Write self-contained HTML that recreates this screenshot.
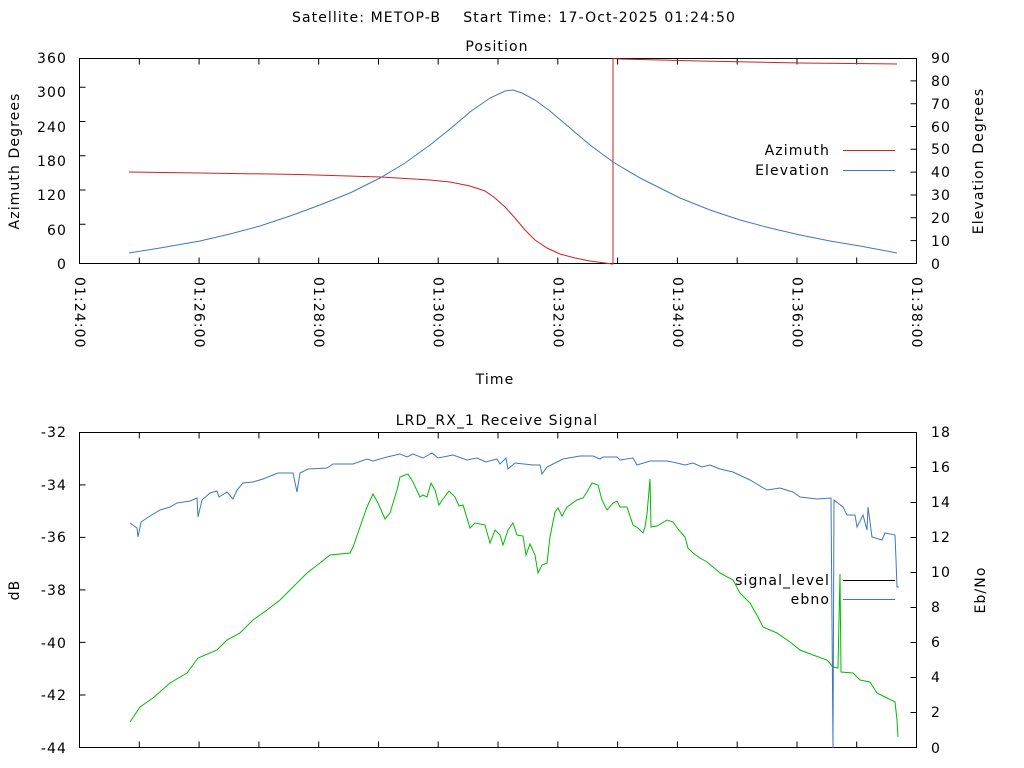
<!DOCTYPE html>
<html><head><meta charset="utf-8"><style>
html,body{margin:0;padding:0;background:#fff;}
svg{display:block;font-family:"DejaVu Sans","Liberation Sans",sans-serif;font-size:14px;fill:#000;letter-spacing:1.1px;}
</style></head><body>
<svg width="1024" height="768" viewBox="0 0 1024 768" xmlns="http://www.w3.org/2000/svg">
<rect width="1024" height="768" fill="#fff"/>
<text x="514" y="22" text-anchor="middle" xml:space="preserve">Satellite: METOP-B    Start Time: 17-Oct-2025 01:24:50</text>
<text x="497" y="51" text-anchor="middle">Position</text>
<text x="495" y="384" text-anchor="middle">Time</text>
<text x="497" y="425" text-anchor="middle">LRD_RX_1 Receive Signal</text>

<rect x="79.5" y="58.5" width="837" height="205" fill="none" stroke="#000" stroke-width="1"/>
<g stroke="#000" stroke-width="1">
<path d="M79.5 224.2h6M79.5 190h6M79.5 155.8h6M79.5 121.5h6M79.5 87.2h6"/>
<path d="M916.5 240.6h-6M916.5 217.8h-6M916.5 195h-6M916.5 172.1h-6M916.5 149.3h-6M916.5 126.5h-6M916.5 103.7h-6M916.5 80.9h-6"/>
<path d="M139.3 263.5v-6M199.1 263.5v-6M258.9 263.5v-6M318.7 263.5v-6M378.5 263.5v-6M438.2 263.5v-6M498 263.5v-6M557.8 263.5v-6M617.6 263.5v-6M677.4 263.5v-6M737.2 263.5v-6M797 263.5v-6M856.7 263.5v-6"/>
<path d="M139.3 58.5v6M199.1 58.5v6M258.9 58.5v6M318.7 58.5v6M378.5 58.5v6M438.2 58.5v6M498 58.5v6M557.8 58.5v6M617.6 58.5v6M677.4 58.5v6M737.2 58.5v6M797 58.5v6M856.7 58.5v6"/>
</g>
<g text-anchor="end">
<text x="67" y="63">360</text><text x="67" y="97">300</text><text x="67" y="132">240</text><text x="67" y="166">180</text><text x="67" y="200">120</text><text x="67" y="235">60</text><text x="67" y="269">0</text>
</g>
<g>
<text x="931" y="63">90</text><text x="931" y="86">80</text><text x="931" y="109">70</text><text x="931" y="132">60</text><text x="931" y="154">50</text><text x="931" y="177">40</text><text x="931" y="200">30</text><text x="931" y="223">20</text><text x="931" y="246">10</text><text x="931" y="269">0</text>
</g>
<g>
<text transform="translate(75,277) rotate(90)">01:24:00</text>
<text transform="translate(194.6,277) rotate(90)">01:26:00</text>
<text transform="translate(314.2,277) rotate(90)">01:28:00</text>
<text transform="translate(433.7,277) rotate(90)">01:30:00</text>
<text transform="translate(553.3,277) rotate(90)">01:32:00</text>
<text transform="translate(672.9,277) rotate(90)">01:34:00</text>
<text transform="translate(792.5,277) rotate(90)">01:36:00</text>
<text transform="translate(912,277) rotate(90)">01:38:00</text>
</g>
<text transform="translate(19,161) rotate(-90)" text-anchor="middle">Azimuth Degrees</text>
<text transform="translate(983,161) rotate(-90)" text-anchor="middle">Elevation Degrees</text>

<polyline fill="none" stroke="#cc2222" stroke-width="1" points="129,172 200,173 300,174.5 380,177 430,180 450,182 470,186 485,191 495,198 505,207 515,218 525,230 535,240 547,248 560,254 575,258 590,261 605,263 612,264 613,264 613,58.5 620,59 700,61 800,63 897,64"/>
<polyline fill="none" stroke="#3f78c0" stroke-width="1" points="129,253 160,248 200,241 230,234 260,226 290,216 320,205 350,193 380,178 405,163 430,145 450,129 470,112 490,98 505,91 513,90 522,93 535,100 550,111 570,128 590,145 613,162 640,178 680,198 710,210 740,220 770,228 800,235 830,241 860,246 897,253"/>
<text x="830" y="155" text-anchor="end">Azimuth</text>
<line x1="843" y1="150.5" x2="895" y2="150.5" stroke="#cc2222"/>
<text x="830" y="175" text-anchor="end">Elevation</text>
<line x1="843" y1="170.5" x2="895" y2="170.5" stroke="#3f78c0"/>

<rect x="79.5" y="432.5" width="837" height="315" fill="none" stroke="#000" stroke-width="1"/>
<g stroke="#000" stroke-width="1">
<path d="M79.5 695h6M79.5 642.4h6M79.5 589.9h6M79.5 537.4h6M79.5 484.9h6"/>
<path d="M916.5 712.5h-6M916.5 677.5h-6M916.5 642.5h-6M916.5 607.5h-6M916.5 572.5h-6M916.5 537.5h-6M916.5 502.5h-6M916.5 467.5h-6"/>
<path d="M139.3 747.5v-6M199.1 747.5v-6M258.9 747.5v-6M318.7 747.5v-6M378.5 747.5v-6M438.2 747.5v-6M498 747.5v-6M557.8 747.5v-6M617.6 747.5v-6M677.4 747.5v-6M737.2 747.5v-6M797 747.5v-6M856.7 747.5v-6"/>
<path d="M139.3 432.5v6M199.1 432.5v6M258.9 432.5v6M318.7 432.5v6M378.5 432.5v6M438.2 432.5v6M498 432.5v6M557.8 432.5v6M617.6 432.5v6M677.4 432.5v6M737.2 432.5v6M797 432.5v6M856.7 432.5v6"/>
</g>
<g text-anchor="end">
<text x="67" y="437">-32</text><text x="67" y="490">-34</text><text x="67" y="542">-36</text><text x="67" y="595">-38</text><text x="67" y="648">-40</text><text x="67" y="700">-42</text><text x="67" y="753">-44</text>
</g>
<g>
<text x="931" y="437">18</text><text x="931" y="472">16</text><text x="931" y="507">14</text><text x="931" y="542">12</text><text x="931" y="577">10</text><text x="931" y="612">8</text><text x="931" y="647">6</text><text x="931" y="682">4</text><text x="931" y="717">2</text><text x="931" y="753">0</text>
</g>
<text transform="translate(19,590) rotate(-90)" text-anchor="middle">dB</text>
<text transform="translate(985,590) rotate(-90)" text-anchor="middle">Eb/No</text>

<polyline fill="none" stroke="#00bb00" stroke-width="1" points="130,722 140,707 153,698 170,683 187,673 198,658 217,650 227,640 240,633 253,620 267,610 280,600 293,587 307,573 320,563 330,555 350,553 353,547 360,527 367,507 373,494 378,503 385,519 390,513 397,490 400,477 408,474 413,482 420,497 423,495 427,497 431,483 435,490 439,505 443,499 449,491 455,497 459,506 463,505 470,528 475,523 485,525 490,543 495,530 500,535 503,545 508,530 513,523 517,535 523,536 526,555 530,544 535,555 538,573 542,565 547,563 550,537 555,512 558,508 562,516 567,507 577,500 583,498 587,492 592,483 598,485 602,500 607,510 613,503 617,501 620,507 627,507 633,525 638,528 643,533 645,527 647,514 650,479 651,527 657,526 667,520 673,522 678,529 685,537 688,548 693,553 700,558 707,562 720,573 733,580 740,593 750,603 758,617 763,627 777,633 790,642 800,650 813,655 827,660 833,667 838,668 839,620 840,574 841,672 853,673 860,680 870,682 877,693 887,698 895,702 897,720 898,737"/>
<polyline fill="none" stroke="#3f78c0" stroke-width="1" points="130,523 137,528 138,537 141,522 150,516 160,510 170,507 177,503 190,501 197,498 198,517 202,500 210,493 217,491 219,497 227,492 233,499 237,490 243,483 253,482 263,479 278,473 293,473 297,492 300,473 308,469 327,468 333,464 353,464 367,459 373,461 387,457 400,454 407,457 413,454 423,458 432,453 438,458 453,455 467,460 477,458 486,462 497,459 500,464 506,458 508,469 515,463 533,465 540,465 542,474 547,467 557,462 563,459 580,456 593,456 600,459 603,457 617,457 620,460 633,458 637,465 650,461 667,461 677,463 685,465 693,463 702,467 710,465 720,469 733,472 750,480 767,490 780,488 793,492 800,497 817,499 831,498 832,623 833,748 834,500 843,507 847,515 855,515 857,527 863,515 867,530 868,507 872,537 882,540 885,533 895,535 896,560 897,587 899,587"/>
<text x="830" y="585" text-anchor="end">signal_level</text>
<line x1="843" y1="580.5" x2="895" y2="580.5" stroke="#000"/>
<text x="830" y="604" text-anchor="end">ebno</text>
<line x1="843" y1="599.5" x2="895" y2="599.5" stroke="#3f78c0"/>
</svg>
</body></html>
